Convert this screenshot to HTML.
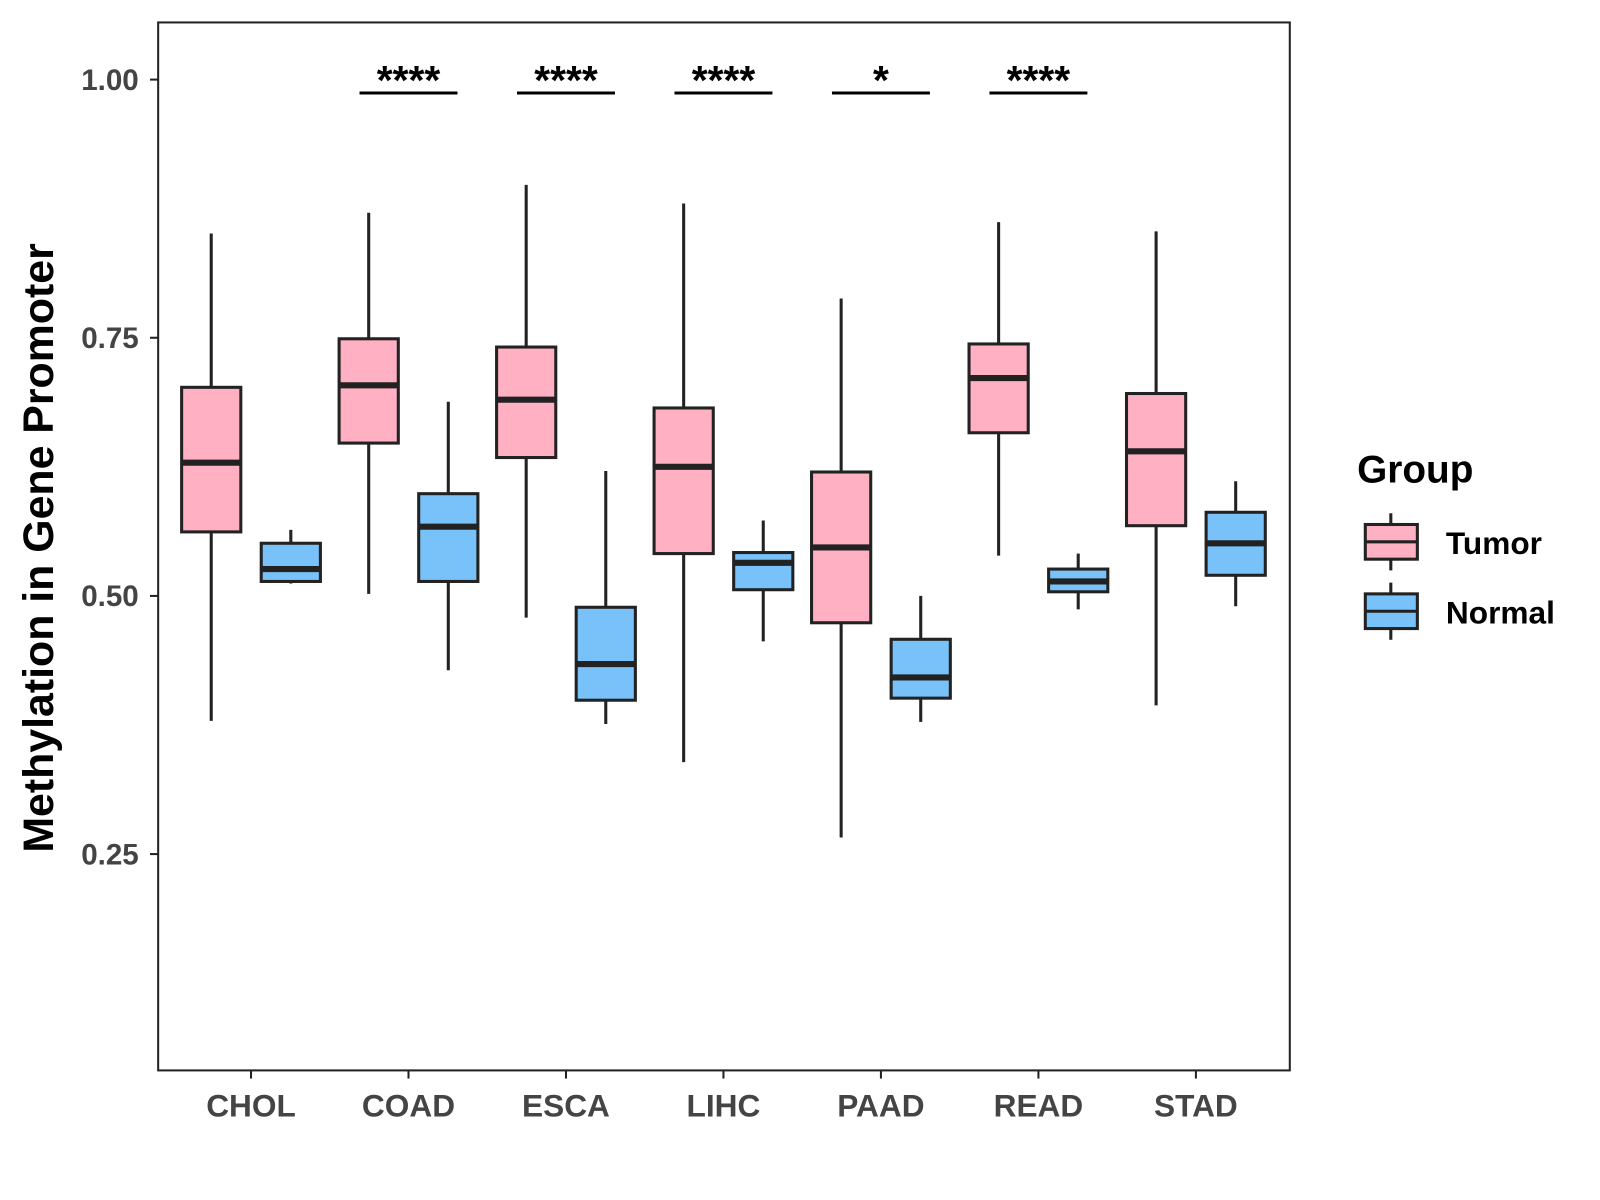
<!DOCTYPE html>
<html><head><meta charset="utf-8"><style>
html,body{margin:0;padding:0;background:#fff}
svg{display:block;font-family:"Liberation Sans",Arial,sans-serif}
</style></head><body>
<svg id="chart" width="1600" height="1200" viewBox="0 0 1568 1176">
<rect x="155" y="22" width="1109" height="1027" fill="#fff" stroke="#222" stroke-width="2"/>
<g id="marks"></g>
<text transform="translate(52,537) rotate(-90)" text-anchor="middle" font-size="42" font-weight="bold" fill="#000">Methylation in Gene Promoter</text>
<g>
<text x="1330" y="473" font-size="38" font-weight="bold" fill="#000">Group</text>
<g>
<line x1="1363" y1="503" x2="1363" y2="559" stroke="#222" stroke-width="3"/>
<rect x="1338" y="514" width="51" height="34" fill="#FFB0C2" stroke="#222" stroke-width="3"/>
<line x1="1338" y1="531" x2="1389" y2="531" stroke="#222" stroke-width="3"/>
<text x="1417" y="543" font-size="31" font-weight="bold" fill="#000">Tumor</text>
</g>
<g>
<line x1="1363" y1="571" x2="1363" y2="627" stroke="#222" stroke-width="3"/>
<rect x="1338" y="582" width="51" height="34" fill="#78C2F9" stroke="#222" stroke-width="3"/>
<line x1="1338" y1="599" x2="1389" y2="599" stroke="#222" stroke-width="3"/>
<text x="1417" y="611" font-size="31" font-weight="bold" fill="#000">Normal</text>
</g>
</g>
</svg>
<script>
const categories=["CHOL","COAD","ESCA","LIHC","PAAD","READ","STAD"];
// [whiskerLow, q1, median, q3, whiskerHigh]
const tumorStats=[[0.379,0.562,0.629,0.702,0.851],[0.502,0.648,0.704,0.749,0.871],[0.479,0.634,0.690,0.741,0.898],[0.339,0.541,0.625,0.682,0.880],[0.266,0.474,0.547,0.620,0.788],[0.539,0.658,0.711,0.744,0.862],[0.394,0.568,0.640,0.696,0.853]];
const normalStats=[[0.512,0.514,0.526,0.551,0.564],[0.428,0.514,0.567,0.599,0.688],[0.376,0.399,0.434,0.489,0.621],[0.456,0.506,0.532,0.542,0.573],[0.378,0.401,0.421,0.458,0.500],[0.487,0.504,0.514,0.526,0.541],[0.490,0.520,0.551,0.581,0.611]];
const significance=["","****","****","****","*","****",""];
const yTicks=[0.25,0.50,0.75,1.00];
const yTickLabels=["0.25","0.50","0.75","1.00"];
const sigLevel=0.987;

const NS="http://www.w3.org/2000/svg";
const g=document.getElementById('marks');
const yScale=v=>78+(1-v)*1012;
const xScale=i=>246+i*154.33;
function mk(tag,attrs,parent){const e=document.createElementNS(NS,tag);for(const k in attrs)e.setAttribute(k,attrs[k]);(parent||g).appendChild(e);return e;}

yTicks.forEach((t,i)=>{
  const y=yScale(t);
  const l=mk('line',{x1:147,x2:155,y1:y,y2:y,stroke:'#222','stroke-width':2});
  
  
  const tx=mk('text',{x:136,y:y+10,'text-anchor':'end','font-size':29,'font-weight':'bold',fill:'#444'});
  tx.textContent=yTickLabels[i];
  
  
});
categories.forEach((c,i)=>{
  const x=xScale(i);
  const l=mk('line',{x1:x,x2:x,y1:1049,y2:1057,stroke:'#222','stroke-width':2});
  
  
  const tx=mk('text',{x:x,y:1094,'text-anchor':'middle','font-size':31,'font-weight':'bold',fill:'#444'});
  tx.textContent=c;
  
  
  [[tumorStats[i],-39,'#FFB0C2','tumor'],[normalStats[i],39,'#78C2F9','normal']].forEach(([s,off,col,nm])=>{
    const cx=x+off,hw=29;
    const bg=mk('g',{});
    
    
    mk('line',{x1:cx,x2:cx,y1:yScale(s[0]),y2:yScale(s[4]),stroke:'#222','stroke-width':3},bg);
    mk('rect',{x:cx-hw,y:yScale(s[3]),width:hw*2,height:yScale(s[1])-yScale(s[3]),fill:col,stroke:'#222','stroke-width':3},bg);
    mk('line',{x1:cx-hw,x2:cx+hw,y1:yScale(s[2]),y2:yScale(s[2]),stroke:'#222','stroke-width':6},bg);
  });
  if(significance[i]){
    const sg=mk('g',{});
    
    
    const y=yScale(sigLevel);
    mk('line',{x1:x-48,x2:x+48,y1:y,y2:y,stroke:'#000','stroke-width':3},sg);
    const tx=mk('text',{x:x,y:y+1,'text-anchor':'middle','font-size':40,'font-weight':'bold',fill:'#000'},sg);
    tx.textContent=significance[i];
  }
});
</script>
</body></html>
